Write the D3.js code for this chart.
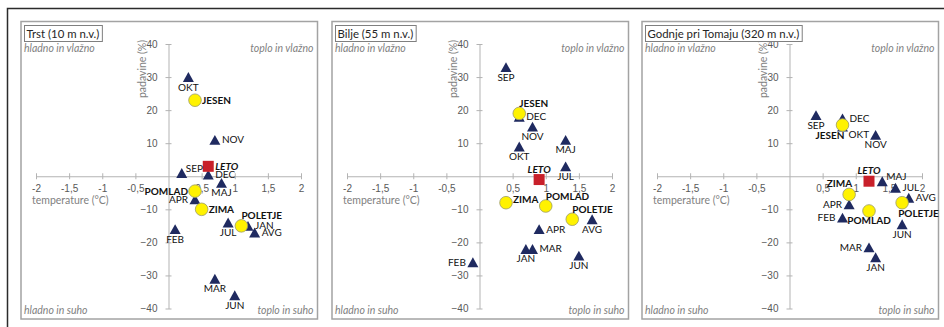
<!DOCTYPE html>
<html>
<head>
<meta charset="utf-8">
<script src="https://cdn.jsdelivr.net/npm/d3@7"></script>
<style>
  body { margin: 0; background: #fff; }
  svg { display: block; font-family: Lato, "Open Sans", sans-serif; }
</style>
</head>
<body>
<svg id="chart" width="944" height="327"></svg>
<script>
/* data */
const stations = ["Trst (10 m n.v.)", "Bilje (55 m n.v.)", "Godnje pri Tomaju (320 m n.v.)"];
const months = ["JAN", "FEB", "MAR", "APR", "MAJ", "JUN", "JUL", "AVG", "SEP", "OKT", "NOV", "DEC"];
const seasons = ["ZIMA", "POMLAD", "POLETJE", "JESEN"];
const yearLabel = "LETO";

// temperature change (°C) and precipitation change (%)
const trstMonthTemp = [1.2, 0.1, 0.7, 0.4, 0.8, 1.0, 0.9, 1.3, 0.2, 0.3, 0.7, 0.6];
const trstMonthPrec = [-15, -16, -31, -7, -2, -36, -14, -17, 1, 30, 11, 0.5];
const trstSeasonTemp = [0.5, 0.4, 1.1, 0.4];
const trstSeasonPrec = [-10, -4.5, -15, 23];
const trstYear = [0.6, 3];

const biljeMonthTemp = [0.7, -0.1, 0.8, 0.9, 1.3, 1.5, 1.3, 1.7, 0.4, 0.6, 0.8, 0.6];
const biljeMonthPrec = [-22, -26, -22, -16, 11, -24, 3, -13, 33, 9, 15, 18];
const biljeSeasonTemp = [0.4, 1.0, 1.4, 0.6];
const biljeSeasonPrec = [-8, -9, -13, 19];
const biljeYear = [0.9, -1];

const godnjeMonthTemp = [1.3, 0.8, 1.2, 0.9, 1.4, 1.7, 1.6, 1.8, 0.4, 0.8, 1.3, 0.8];
const godnjeMonthPrec = [-24.5, -12.5, -21.5, -8.5, -1.5, -14.5, -3.5, -6.5, 18.5, 15, 12.5, 17.5];
const godnjeSeasonTemp = [0.9, 1.2, 1.7, 0.8];
const godnjeSeasonPrec = [-5.5, -10.5, -8, 15.5];
const godnjeYear = [1.2, -1.5];

const xTicks = [-2, -1.5, -1, -0.5, 0.5, 1, 1.5, 2];
const yTicks = [-40, -30, -20, -10, 10, 20, 30, 40];

/* label placement per panel (layout only) */
const placements = [
  { JAN: "r", FEB: "b", MAR: "b", APR: "l", MAJ: "b", JUN: "b", JUL: "b", AVG: "r", SEP: "ru", OKT: "b", NOV: "r", DEC: "r",
    ZIMA: "r", POMLAD: "l", POLETJE: "tr", JESEN: "r", LETO: "r" },
  { JAN: "b", FEB: "l", MAR: "r", APR: "r", MAJ: "b", JUN: "b", JUL: "b", AVG: "b", SEP: "b", OKT: "b", NOV: "b", DEC: "r",
    ZIMA: "rt", POMLAD: "tr", POLETJE: "tr", JESEN: "tr", LETO: "t" },
  { JAN: "b", FEB: "l", MAR: "l", APR: "l", MAJ: "ru", JUN: "b", JUL: "r", AVG: "r", SEP: "b", OKT: "br", NOV: "b", DEC: "r",
    ZIMA: "tl", POMLAD: "b", POLETJE: "bs", JESEN: "bl", LETO: "t" }
];

const panelData = [
  { mt: trstMonthTemp, mp: trstMonthPrec, st: trstSeasonTemp, sp: trstSeasonPrec, yr: trstYear },
  { mt: biljeMonthTemp, mp: biljeMonthPrec, st: biljeSeasonTemp, sp: biljeSeasonPrec, yr: biljeYear },
  { mt: godnjeMonthTemp, mp: godnjeMonthPrec, st: godnjeSeasonTemp, sp: godnjeSeasonPrec, yr: godnjeYear }
];

/* layout */
const panelX = [21, 332, 642];
const panelTop = 21.5, panelW = 296.5, panelH = 297.5;
const grey = "#7f7f7f";
const labelOffsets = {
  r: [7, 3.5, "start"], l: [-7, 3.5, "end"], b: [0, 13.5, "middle"], t: [0, -7, "middle"],
  ru: [4, -1, "start"], rt: [7, 0, "start"],
  tr: [0, -6.5, "start"], tl: [3, -7, "end"], br: [6, 11, "start"], bl: [2, 13.5, "end"],
  bs: [-4, 14, "start"]
};

const svg = d3.select("#chart");

// outer frame (cropped)
svg.append("path")
  .attr("d", "M7.5,327V8.5H944")
  .attr("fill", "none")
  .attr("stroke", "#2b2b2b")
  .attr("stroke-width", 1.5);

// triangle centred on its bounding box, like the spreadsheet marker
const boxTriangle = {
  draw(ctx, size) {
    const w = Math.sqrt(size), h = w * 0.9;
    ctx.moveTo(0, -h / 2);
    ctx.lineTo(w / 2, h / 2);
    ctx.lineTo(-w / 2, h / 2);
    ctx.closePath();
  }
};

const fmt = (v) => String(v).replace(".", ",");

stations.forEach((name, i) => {
  const x0 = panelX[i];
  const d = panelData[i];
  const g = svg.append("g");

  g.append("rect")
    .attr("x", x0).attr("y", panelTop)
    .attr("width", panelW).attr("height", panelH)
    .attr("fill", "#fff")
    .attr("stroke", "#a3a3a3")
    .attr("stroke-width", 1.5);

  const x = d3.scaleLinear().domain([-2, 2]).range([x0 + 15, x0 + 280]);
  const y = d3.scaleLinear().domain([-40, 40]).range([308.5, 44]);

  /* X axis */
  const gx = g.append("g")
    .attr("transform", `translate(0,${y(0)})`)
    .call(d3.axisBottom(x).tickValues(xTicks).tickFormat(fmt).tickSize(3).tickSizeOuter(0).tickPadding(6));
  /* Y axis */
  const gy = g.append("g")
    .attr("transform", `translate(${x(0)},0)`)
    .call(d3.axisLeft(y).tickValues(yTicks).tickSize(3).tickSizeOuter(0).tickPadding(8));

  [gx, gy].forEach((ax) => {
    ax.select(".domain").attr("stroke", "#b3b3b3");
    ax.selectAll("line").attr("stroke", "#b3b3b3");
    ax.selectAll("text").attr("fill", "#595959").style("font-size", "10px");
  });
  gx.selectAll(".tick line").attr("y1", -3);
  gy.selectAll(".tick line").attr("x1", 3);

  // axis titles
  g.append("text")
    .attr("transform", `translate(${x(0) - 23},${69}) rotate(-90)`)
    .attr("text-anchor", "middle")
    .attr("fill", grey)
    .style("font-size", "10.5px")
    .text("padavine (%)");
  g.append("text")
    .attr("x", x0 + 11).attr("y", y(0) + 28)
    .attr("fill", grey)
    .style("font-size", "10.5px")
    .text("temperature (°C)");

  // quadrant notes
  const notes = [
    ["hladno in vlažno", x0 + 3, 52, "start"],
    ["toplo in vlažno", x0 + panelW - 4, 52, "end"],
    ["hladno in suho", x0 + 3, 314, "start"],
    ["toplo in suho", x0 + panelW - 4, 314, "end"]
  ];
  g.selectAll(".note").data(notes).enter().append("text")
    .attr("x", (n) => n[1]).attr("y", (n) => n[2])
    .attr("text-anchor", (n) => n[3])
    .attr("fill", grey)
    .style("font-size", "10.5px")
    .style("font-style", "italic")
    .text((n) => n[0]);

  // title box
  const tt = g.append("text")
    .attr("x", x0 + 5.5).attr("y", 37.5)
    .attr("fill", "#262626")
    .style("font-size", "11.4px")
    .text(name);
  const tw = tt.node().getComputedTextLength();
  g.insert("rect", () => tt.node())
    .attr("x", x0 + 3.5).attr("y", 25.5)
    .attr("width", tw + 5).attr("height", 16)
    .attr("fill", "#fff")
    .attr("stroke", "#7f7f7f")
    .attr("stroke-width", 1);

  const monthPts = months.map((m, k) => ({ name: m, t: d.mt[k], p: d.mp[k], kind: "m" }));
  const seasonPts = seasons.map((s, k) => ({ name: s, t: d.st[k], p: d.sp[k], kind: "s" }));
  const yearPts = [{ name: yearLabel, t: d.yr[0], p: d.yr[1], kind: "y" }];

  g.selectAll(".tri").data(monthPts).enter().append("path")
    .attr("transform", (p) => `translate(${x(p.t)},${y(p.p)})`)
    .attr("d", d3.symbol(boxTriangle, 121))
    .attr("fill", "#1f2a60");

  g.selectAll(".circ").data(seasonPts).enter().append("circle")
    .attr("cx", (p) => x(p.t)).attr("cy", (p) => y(p.p))
    .attr("r", 6.3)
    .attr("fill", "#fff200")
    .attr("stroke", "#9a9a6a")
    .attr("stroke-width", 0.8);

  g.selectAll(".sq").data(yearPts).enter().append("path")
    .attr("transform", (p) => `translate(${x(p.t)},${y(p.p)})`)
    .attr("d", d3.symbol(d3.symbolSquare, 121))
    .attr("fill", "#c8202a");

  const allPts = monthPts.concat(seasonPts, yearPts);
  g.selectAll(".lbl").data(allPts).enter().append("text")
    .each(function (p) {
      const o = labelOffsets[placements[i][p.name]];
      d3.select(this)
        .attr("x", x(p.t) + o[0])
        .attr("y", y(p.p) + o[1])
        .attr("text-anchor", o[2]);
    })
    .attr("fill", "#111")
    .style("font-size", "10px")
    .style("font-weight", (p) => (p.kind === "m" ? "normal" : "bold"))
    .style("font-style", (p) => (p.kind === "y" ? "italic" : "normal"))
    .text((p) => p.name);
});
</script>
</body>
</html>
